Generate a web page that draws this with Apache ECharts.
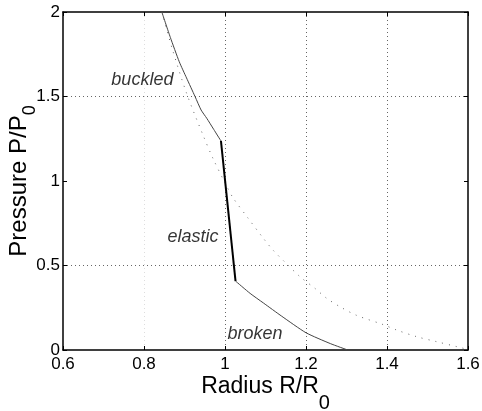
<!DOCTYPE html>
<html>
<head>
<meta charset="utf-8">
<script src="https://cdn.jsdelivr.net/npm/echarts@6/dist/echarts.min.js"></script>
<style>
html,body{margin:0;padding:0;background:#fff;}
#c{width:482px;height:411px;}
</style>
</head>
<body>
<div id="c"></div>
<script>
// ---- data ----
var xTicks = ['0.6', '0.8', '1', '1.2', '1.4', '1.6'];
var yTicks = ['0', '0.5', '1', '1.5', '2'];

var buckledR = [0.844, 0.865, 0.887, 0.905, 0.926, 0.941, 0.955, 0.972, 0.990];
var buckledP = [2.000, 1.850, 1.706, 1.610, 1.500, 1.420, 1.371, 1.306, 1.237];

var elasticR = [0.990, 1.026];
var elasticP = [1.237, 0.408];

var brokenR = [1.026, 1.062, 1.095, 1.140, 1.200, 1.260, 1.303];
var brokenP = [0.408, 0.335, 0.278, 0.200, 0.102, 0.038, 0.000];

var dottedR = [0.844, 0.870, 0.905, 0.946, 0.971, 1.004, 1.020, 1.057, 1.095, 1.119, 1.148, 1.185, 1.222, 1.251, 1.284, 1.325, 1.391, 1.424, 1.473, 1.523, 1.572, 1.600];
var dottedP = [2.000, 1.780, 1.520, 1.270, 1.130, 0.970, 0.900, 0.780, 0.660, 0.590, 0.520, 0.434, 0.365, 0.306, 0.256, 0.205, 0.150, 0.118, 0.079, 0.049, 0.020, 0.003];

var labelText = ['buckled', 'elastic', 'broken'];
var labelR = [0.796, 0.921, 1.074];
var labelP = [1.598, 0.666, 0.096];

function zip(a, b) { return a.map(function (v, i) { return [v, b[i]]; }); }

var FONT = '"Liberation Sans", Arial, Helvetica, sans-serif';
var chart = echarts.init(document.getElementById('c'), null, {renderer: 'canvas'});

function fmtX(v) { var i = Math.round((v - 0.6) / 0.2); return xTicks[i] !== undefined ? xTicks[i] : ''; }
function fmtY(v) { var i = Math.round(v / 0.5); return yTicks[i] !== undefined ? yTicks[i] : ''; }

var axisLineStyle = {color: '#000', width: 1.5};

chart.setOption({
  animation: false,
  backgroundColor: '#fff',
  grid: {left: 63, right: 14, top: 12, bottom: 61, containLabel: false, outerBoundsMode: 'none'},
  xAxis: [{
    type: 'value', min: 0.6, max: 1.6, interval: 0.2, position: 'bottom',
    axisLine: {show: true, onZero: false, lineStyle: axisLineStyle},
    axisTick: {show: true, inside: true, length: 4, lineStyle: {color: '#000', width: 1}},
    axisLabel: {show: true, margin: 6, color: '#000', fontSize: 17, fontFamily: FONT, formatter: fmtX},
    splitLine: {show: true, lineStyle: {type: [1, 3], width: 1, color: ['rgba(0,0,0,0)', '#dddddd', '#666', '#666', '#666', 'rgba(0,0,0,0)']}},
    name: '{a|Radius R/R}{s|0}',
    nameLocation: 'middle', nameGap: 25, nameMoveOverlap: false,
    nameTextStyle: {
      color: '#000', fontFamily: FONT,
      rich: {
        a: {fontSize: 23, fontFamily: FONT, color: '#000', verticalAlign: 'top'},
        s: {fontSize: 20, fontFamily: FONT, color: '#000', padding: [18, 0, 0, 0]}
      }
    }
  }, {
    type: 'value', min: 0.6, max: 1.6, interval: 0.2, position: 'top',
    axisLine: {show: true, onZero: false, lineStyle: axisLineStyle},
    axisTick: {show: true, inside: true, length: 4, lineStyle: {color: '#000', width: 1}},
    axisLabel: {show: false}, splitLine: {show: false}
  }],
  yAxis: [{
    type: 'value', min: 0, max: 2, interval: 0.5, position: 'left',
    axisLine: {show: true, onZero: false, lineStyle: axisLineStyle},
    axisTick: {show: true, inside: true, length: 4, lineStyle: {color: '#000', width: 1}},
    axisLabel: {show: true, margin: 3, color: '#000', fontSize: 17, fontFamily: FONT, formatter: fmtY, padding: [4, 0, 0, 0]},
    splitLine: {show: true, lineStyle: {type: [1, 3], width: 1, color: ['rgba(0,0,0,0)', '#666', 'rgba(0,0,0,0)', '#666', 'rgba(0,0,0,0)']}},
    name: '{a|Pressure P/P}{s|0}',
    nameLocation: 'middle', nameGap: 24, nameMoveOverlap: false,
    nameTextStyle: {
      color: '#000', fontFamily: FONT,
      rich: {
        a: {fontSize: 24, fontFamily: FONT, color: '#000', verticalAlign: 'top'},
        s: {fontSize: 18, fontFamily: FONT, color: '#000', padding: [14, 0, 0, 0]}
      }
    }
  }, {
    type: 'value', min: 0, max: 2, interval: 0.5, position: 'right',
    axisLine: {show: true, onZero: false, lineStyle: axisLineStyle},
    axisTick: {show: true, inside: true, length: 4, lineStyle: {color: '#000', width: 1}},
    axisLabel: {show: false}, splitLine: {show: false}
  }],
  series: [
    {
      type: 'line', name: 'dotted', data: zip(dottedR, dottedP), showSymbol: false, smooth: 0.3,
      lineStyle: {color: '#666', width: 1, type: [1, 6]}, z: 2
    },
    {
      type: 'line', name: 'buckled', data: zip(buckledR, buckledP), showSymbol: false, smooth: 0.2,
      lineStyle: {color: '#444', width: 1}, z: 3
    },
    {
      type: 'line', name: 'elastic', data: zip(elasticR, elasticP), showSymbol: false,
      lineStyle: {color: '#000', width: 2}, z: 4
    },
    {
      type: 'line', name: 'broken', data: zip(brokenR, brokenP), showSymbol: false, smooth: 0.2,
      lineStyle: {color: '#444', width: 1}, z: 3
    },
    {
      type: 'scatter', name: 'labels', symbolSize: 0, silent: true,
      data: labelText.map(function (t, i) { return {value: [labelR[i], labelP[i]], name: t}; }),
      label: {
        show: true, position: 'inside', formatter: function (p) { return p.name; },
        fontSize: 18, fontStyle: 'italic', fontFamily: FONT, color: '#000', textBorderWidth: 0
      }, z: 5
    }
  ]
});
</script>
</body>
</html>
